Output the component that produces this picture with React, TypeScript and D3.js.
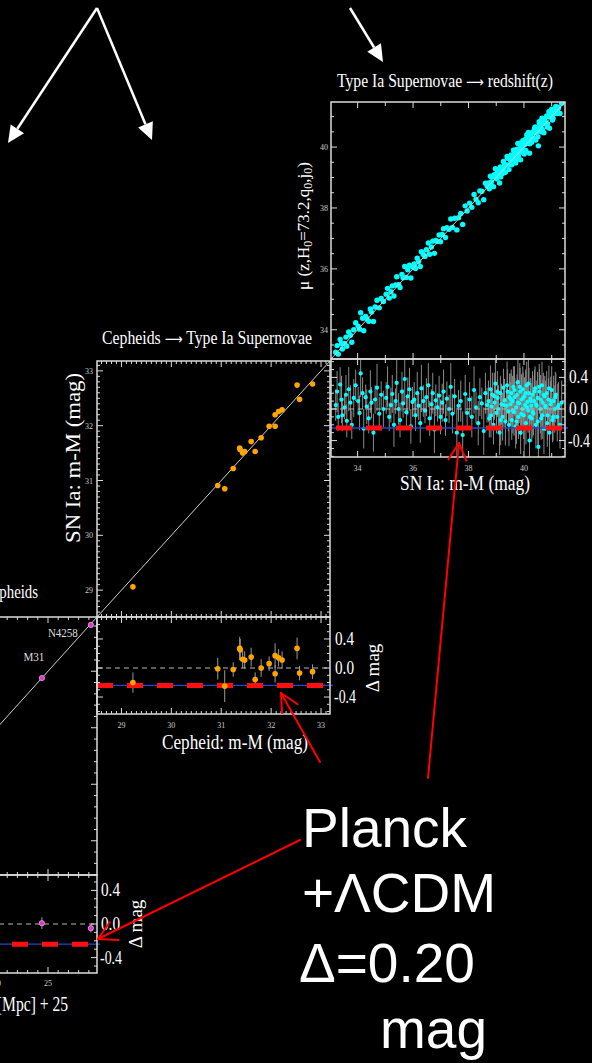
import React from 'react';
import * as d3 from 'd3';

const FG = '#dcdcdc';
const SERIF = '"Liberation Serif", "Times New Roman", serif';
const SANS = '"Liberation Sans", Arial, sans-serif';
const ARROWFONT = '"DejaVu Sans", sans-serif';
const ARROW = '\u27F6';

// ---------- Type Ia supernovae in the Hubble flow (m-M, residual, error) ----------
const snX = [
  33.21, 33.26, 33.3, 33.37, 33.42, 33.45, 33.53, 33.58, 33.61, 33.68, 33.74, 33.79, 33.86, 33.93,
  34.02, 34.07, 34.11, 34.18, 34.22, 34.29, 34.33, 34.4, 34.46, 34.5, 34.57, 34.63, 34.7, 34.78, 34.85, 34.93,
  35.03, 35.08, 35.14, 35.2, 35.25, 35.31, 35.37, 35.41, 35.48, 35.53, 35.6, 35.64, 35.7, 35.76, 35.81, 35.87, 35.92, 35.98,
  36.04, 36.09, 36.15, 36.2, 36.26, 36.3, 36.37, 36.43, 36.48, 36.55, 36.6, 36.66, 36.71, 36.77, 36.82, 36.88, 36.94, 36.99,
  37.05, 37.1, 37.17, 37.22, 37.3, 37.36, 37.42, 37.5, 37.58, 37.64, 37.72, 37.79, 37.88, 37.95,
  38.04, 38.12, 38.2, 38.27, 38.35, 38.41, 38.48, 38.55, 38.61, 38.67,
  38.72, 38.75, 38.79, 38.83, 38.86, 38.9, 38.94, 38.97, 39.01, 39.05, 39.08, 39.12, 39.15, 39.19, 39.23, 39.26, 39.3, 39.33, 39.37, 39.41, 39.44, 39.48,
  39.51, 39.54, 39.56, 39.59, 39.62, 39.64, 39.67, 39.7, 39.72, 39.75, 39.78, 39.8, 39.83, 39.86, 39.88, 39.91, 39.94, 39.96, 39.99, 40.02, 40.04, 40.07, 40.1, 40.12, 40.15, 40.18, 40.2, 40.23, 40.26, 40.28,
  40.31, 40.34, 40.37, 40.4, 40.43, 40.46, 40.49, 40.52, 40.56, 40.59, 40.62, 40.65, 40.68, 40.72, 40.75, 40.78, 40.82, 40.85, 40.88, 40.92, 40.96, 41.0, 41.03, 41.07, 41.11, 41.15, 41.2, 41.25, 41.3, 41.36,
  38.81, 38.93, 39.04, 39.16, 39.28, 39.39, 39.46, 39.53, 39.6, 39.66, 39.73, 39.77, 39.85, 39.9, 39.97, 40.01, 40.06, 40.11, 40.16, 40.21, 40.25, 40.32, 40.38, 40.44, 40.5, 40.55, 40.6, 40.66, 40.7, 40.77, 40.84, 40.9, 40.97, 41.05, 41.13, 41.22,
];
const snRes = [
  0.05, 0.22, -0.1, 0.31, 0.12, -0.08, 0.02, 0.18, -0.15, 0.25, 0.08, -0.2, 0.14, 0.3,
  0.1, -0.05, 0.45, 0.2, -0.25, 0.15, 0.03, -0.12, 0.22, 0.08, -0.3, 0.12, 0.27, -0.06, 0.18, 0.0,
  0.14, 0.28, -0.1, 0.05, 0.19, -0.2, 0.1, 0.33, 0.0, -0.14, 0.22, 0.07, 0.38, -0.04, 0.16, 0.25, -0.22, 0.09,
  0.12, -0.08, 0.2, 0.04, -0.18, 0.26, 0.1, -0.02, 0.15, 0.3, -0.12, 0.06, 0.2, -0.26, 0.11, 0.02, 0.17, -0.1,
  0.08, 0.22, -0.14, 0.13, 0.0, 0.28, -0.06, 0.16, -0.3, 0.04, 0.1, -0.33, 0.19, -0.05,
  0.12, -0.1, 0.24, 0.02, -0.18, 0.15, 0.07, -0.28, 0.2, 0.05,
  0.1, -0.12, 0.25, 0.03, 0.18, -0.2, 0.08, 0.32, -0.05, 0.14, 0.0, -0.3, 0.2, 0.06, -0.1, 0.27, 0.11, -0.16, 0.04, 0.22, -0.03, 0.15,
  0.06, 0.2, -0.14, 0.1, 0.28, -0.04, 0.15, -0.22, 0.02, 0.18, 0.34, -0.1, 0.07, 0.22, -0.3, 0.12, 0.0, 0.25, -0.08, 0.16, 0.05, -0.18, 0.3, 0.09, -0.02, 0.2, -0.4, 0.13, 0.04, -0.12,
  0.18, -0.06, 0.1, 0.26, -0.2, 0.04, 0.14, -0.48, 0.22, 0.0, -0.12, 0.3, 0.08, -0.25, 0.16, 0.02, 0.2, -0.08, 0.12, -0.3, 0.06, 0.24, -0.14, 0.1, 0.0, 0.18, -0.1, 0.05, -0.2, 0.08,
  -0.08, 0.16, 0.22, -0.14, 0.05, 0.3, -0.2, 0.12, -0.02, 0.24, -0.16, 0.08, 0.28, -0.06, 0.14, -0.24, 0.2, 0.02, 0.32, -0.1, 0.1, -0.04, 0.22, 0.06, -0.16, 0.28, 0.12, -0.08, 0.18, 0.04, -0.18, 0.26, 0.1, -0.1, 0.15, 0.02,
];
const snErr = [
  0.2, 0.26, 0.18, 0.22, 0.3, 0.2, 0.15, 0.25, 0.21, 0.28, 0.22, 0.18, 0.24, 0.2,
  0.18, 0.22, 0.3, 0.2, 0.25, 0.16, 0.22, 0.19, 0.27, 0.2, 0.24, 0.18, 0.3, 0.21, 0.17, 0.23,
  0.2, 0.26, 0.18, 0.22, 0.24, 0.28, 0.16, 0.3, 0.2, 0.22, 0.25, 0.18, 0.32, 0.2, 0.24, 0.27, 0.22, 0.19,
  0.22, 0.2, 0.27, 0.18, 0.25, 0.3, 0.2, 0.16, 0.24, 0.28, 0.22, 0.19, 0.26, 0.3, 0.2, 0.18, 0.25, 0.22,
  0.24, 0.28, 0.2, 0.22, 0.18, 0.3, 0.25, 0.22, 0.32, 0.2, 0.26, 0.3, 0.24, 0.2,
  0.22, 0.26, 0.3, 0.2, 0.28, 0.24, 0.2, 0.3, 0.26, 0.22,
  0.26, 0.24, 0.3, 0.22, 0.28, 0.25, 0.2, 0.32, 0.26, 0.24, 0.3, 0.28, 0.22, 0.26, 0.3, 0.24, 0.27, 0.3, 0.22, 0.28, 0.25, 0.3,
  0.28, 0.3, 0.25, 0.32, 0.26, 0.3, 0.24, 0.28, 0.33, 0.26, 0.3, 0.28, 0.25, 0.3, 0.27, 0.32, 0.26, 0.29, 0.3, 0.24, 0.31, 0.27, 0.3, 0.25, 0.28, 0.32, 0.3, 0.26, 0.29, 0.3,
  0.3, 0.27, 0.32, 0.28, 0.3, 0.26, 0.33, 0.3, 0.28, 0.31, 0.27, 0.3, 0.29, 0.32, 0.26, 0.3, 0.28, 0.31, 0.27, 0.33, 0.29, 0.3, 0.28, 0.32, 0.3, 0.27, 0.31, 0.29, 0.3, 0.28,
  0.28, 0.3, 0.26, 0.32, 0.28, 0.3, 0.27, 0.33, 0.29, 0.3, 0.28, 0.31, 0.3, 0.27, 0.32, 0.29, 0.3, 0.28, 0.31, 0.3, 0.29, 0.32, 0.28, 0.3, 0.33, 0.29, 0.31, 0.3, 0.28, 0.32, 0.3, 0.29, 0.31, 0.3, 0.32, 0.3,
];

// ---------- Cepheid hosts: Cepheid m-M vs SN Ia m-M ----------
const cephX = [29.23, 30.93, 31.07, 31.24, 31.37, 31.38, 31.43, 31.47, 31.6, 31.68, 31.8, 31.96, 32.08, 32.08, 32.15, 32.22, 32.52, 32.57, 32.83];
const cephY = [29.06, 30.91, 30.85, 31.22, 31.59, 31.56, 31.5, 31.53, 31.71, 31.53, 31.78, 31.99, 31.99, 32.2, 32.26, 32.29, 32.74, 32.48, 32.76];
const cephRes = [-0.2, -0.01, -0.25, -0.02, 0.27, 0.25, 0.12, 0.11, 0.15, -0.16, 0.0, 0.06, -0.08, 0.17, 0.14, 0.11, 0.27, -0.07, -0.05];
const cephErr = [0.14, 0.15, 0.22, 0.1, 0.16, 0.15, 0.12, 0.12, 0.13, 0.1, 0.12, 0.1, 0.12, 0.17, 0.12, 0.12, 0.15, 0.1, 0.1];

// ---------- Geometric anchors ----------
const anchorNames = ['M31', 'N4258'];
const anchorX = [24.4, 29.2];
const anchorY = [24.4, 29.1];
const anchorRes = [0.01, -0.05];
const anchorErr = [0.07, 0.05];

const planckOffset = -0.24;

const ticksC = [34, 36, 38, 40];
const ticksB = [29, 30, 31, 32, 33];
const ticksA = [20, 25];
const resTicks = [0.4, 0.0, -0.4];

// ---------- scales ----------
const xC = d3.scaleLinear().domain([33.04, 41.48]).range([331, 565]);
const yC = d3.scaleLinear().domain([33.04, 41.48]).range([359, 102]);
const yCr = d3.scaleLinear().domain([-0.608, 0.633]).range([457, 359]);

const xB = d3.scaleLinear().domain([28.51, 33.18]).range([97, 330]);
const yB = d3.scaleLinear().domain([28.51, 33.18]).range([617, 361]);
const yBr = d3.scaleLinear().domain([-0.634, 0.703]).range([714, 617]);

const xA = d3.scaleLinear().domain([6.97, 29.8]).range([-136, 97]);
const yA = d3.scaleLinear().domain([6.97, 29.8]).range([875, 617]);
const yAr = d3.scaleLinear().domain([-0.583, 0.583]).range([973, 875]);

type Lin = d3.ScaleLinear<number, number>;

function tickVals(lo: number, hi: number, step: number) {
  const out: number[] = [];
  const s = Math.ceil(lo / step - 1e-9);
  const e = Math.floor(hi / step + 1e-9);
  for (let i = s; i <= e; i++) out.push(+(i * step).toFixed(6));
  return out;
}
const isMul = (v: number, m: number) => Math.abs(v / m - Math.round(v / m)) < 1e-6;

function TicksX({ scale, y, step, major, dir, minLen = 3, majLen = 6 }: { scale: Lin; y: number; step: number; major: number; dir: number; minLen?: number; majLen?: number }) {
  const [a, b] = scale.domain();
  return (
    <g>
      {tickVals(Math.min(a, b), Math.max(a, b), step).map((v, i) => {
        const L = isMul(v, major) ? majLen : minLen;
        const x = scale(v);
        return <line key={i} x1={x} x2={x} y1={y} y2={y + dir * L} stroke={FG} strokeWidth={1} />;
      })}
    </g>
  );
}
function TicksY({ scale, x, step, major, dir, minLen = 3, majLen = 6 }: { scale: Lin; x: number; step: number; major: number; dir: number; minLen?: number; majLen?: number }) {
  const [a, b] = scale.domain();
  return (
    <g>
      {tickVals(Math.min(a, b), Math.max(a, b), step).map((v, i) => {
        const L = isMul(v, major) ? majLen : minLen;
        const y = scale(v);
        return <line key={i} x1={x} x2={x + dir * L} y1={y} y2={y} stroke={FG} strokeWidth={1} />;
      })}
    </g>
  );
}

function Frame({ xs, ys }: { xs: Lin; ys: Lin }) {
  const [x0, x1] = xs.range();
  const [y0, y1] = ys.range();
  return <rect x={x0} y={Math.min(y0, y1)} width={x1 - x0} height={Math.abs(y1 - y0)} fill="none" stroke={FG} strokeWidth={1.5} />;
}

function RefLines({ xs, ys, dashOffset }: { xs: Lin; ys: Lin; dashOffset: number }) {
  const [x0, x1] = xs.range();
  const y0 = ys(0);
  const yr = ys(planckOffset);
  return (
    <g>
      <line x1={x0} x2={x1} y1={y0} y2={y0} stroke="#b8b8b8" strokeWidth={1} strokeDasharray="5,4" />
      <line x1={x0} x2={x1 + 3} y1={yr} y2={yr} stroke="#2646c8" strokeWidth={1.4} />
      <line x1={x0} x2={x1} y1={yr} y2={yr} stroke="#ff1010" strokeWidth={5} strokeDasharray="16,14" strokeDashoffset={dashOffset} />
    </g>
  );
}

function Arrow({ x1, y1, x2, y2, color, width, head, half, open }: { x1: number; y1: number; x2: number; y2: number; color: string; width: number; head: number; half: number; open?: boolean }) {
  const dx = x2 - x1, dy = y2 - y1;
  const len = Math.hypot(dx, dy);
  const ux = dx / len, uy = dy / len;
  const bx = x2 - ux * head, by = y2 - uy * head;
  const nx = -uy, ny = ux;
  const p1 = [bx + nx * half, by + ny * half];
  const p2 = [bx - nx * half, by - ny * half];
  if (open) {
    return (
      <g stroke={color} strokeWidth={width} strokeLinecap="round">
        <line x1={x1} y1={y1} x2={x2} y2={y2} />
        <line x1={x2} y1={y2} x2={p1[0]} y2={p1[1]} />
        <line x1={x2} y1={y2} x2={p2[0]} y2={p2[1]} />
      </g>
    );
  }
  return (
    <g>
      <line x1={x1} y1={y1} x2={bx} y2={by} stroke={color} strokeWidth={width} />
      <polygon points={`${x2},${y2} ${p1[0]},${p1[1]} ${p2[0]},${p2[1]}`} fill={color} />
    </g>
  );
}

function ResLabels({ ys, x }: { ys: Lin; x: number }) {
  return (
    <g>
      {resTicks.map((v, i) => (
        <text key={i} x={v < 0 ? x - 1 : x} y={ys(v) + 6} fill="#fff" fontFamily={SERIF} fontSize={18}
          textLength={v < 0 ? 22 : 19} lengthAdjust="spacingAndGlyphs">
          {v < 0 ? '-' + Math.abs(v).toFixed(1) : v.toFixed(1)}
        </text>
      ))}
    </g>
  );
}

export default function App() {
  const diag = (xs: Lin, ys: Lin) => {
    const [lo, hi] = xs.domain();
    return <line x1={xs(lo)} y1={ys(lo)} x2={xs(hi)} y2={ys(hi)} stroke="#cfcfcf" strokeWidth={1} />;
  };
  return (
    <svg width={592} height={1063} style={{ position: 'absolute', left: 0, top: 0, display: 'block', background: '#000' }}>
      <rect x={0} y={0} width={592} height={1063} fill="#000" />
      <defs>
        <clipPath id="clipCr"><rect x={331} y={359} width={234} height={98} /></clipPath>
        <clipPath id="clipBr"><rect x={97} y={617} width={233} height={97} /></clipPath>
        <clipPath id="clipC"><rect x={331} y={102} width={234} height={257} /></clipPath>
      </defs>

      {/* white arrows */}
      <Arrow x1={97} y1={8} x2={8} y2={143} color="#fff" width={2.5} head={17} half={8} />
      <Arrow x1={97} y1={8} x2={152} y2={140} color="#fff" width={2.5} head={17} half={8} />
      <Arrow x1={350} y1={8} x2={383} y2={62} color="#fff" width={2.5} head={17} half={8} />

      {/* ===== Panel C : SN Ia -> redshift ===== */}
      <text x={337} y={87} fill="#fff" fontFamily={SERIF} fontSize={19} textLength={216} lengthAdjust="spacingAndGlyphs">
        Type Ia Supernovae <tspan fontFamily={ARROWFONT} fontSize={15}>{ARROW}</tspan> redshift(z)
      </text>
      <g clipPath="url(#clipC)">
        {snX.map((x, i) => (
          <circle key={i} cx={xC(x)} cy={yC(x + snRes[i])} r={2.7} fill="#00ffff" />
        ))}
        {diag(xC, yC)}
      </g>
      <Frame xs={xC} ys={yC} />
      <TicksY scale={yC} x={331} step={0.5} major={2} dir={1} minLen={3} majLen={6} />
      <TicksY scale={yC} x={565} step={0.5} major={2} dir={-1} minLen={3} majLen={6} />
      <TicksX scale={xC} y={102} step={1} major={2} dir={1} minLen={4} majLen={6} />
      <TicksX scale={xC} y={359} step={1} major={2} dir={-1} minLen={4} majLen={6} />
      {ticksC.map((v) => (
        <text key={v} x={328} y={yC(v) + 3} textAnchor="end" fill="#ccc" fontFamily={SERIF} fontSize={8}>{v}</text>
      ))}
      <text transform="translate(309,226) rotate(-90)" textAnchor="middle" fill="#fff" fontFamily={SERIF} fontSize={17}>
        μ (z,H<tspan dy={3} fontSize={12}>0</tspan><tspan dy={-3}>=73.2,q</tspan><tspan dy={3} fontSize={12}>0</tspan><tspan dy={-3}>,j</tspan><tspan dy={3} fontSize={12}>0</tspan><tspan dy={-3}>)</tspan>
      </text>

      {/* residual C */}
      <g clipPath="url(#clipCr)">
        {snX.map((x, i) => (
          <line key={i} x1={xC(x)} x2={xC(x)} y1={yCr(snRes[i] - snErr[i])} y2={yCr(snRes[i] + snErr[i])} stroke="#8a8a8a" strokeWidth={1} />
        ))}
        {snX.map((x, i) => (
          <circle key={i} cx={xC(x)} cy={yCr(snRes[i])} r={2.1} fill="#00ffff" />
        ))}
      </g>
      <RefLines xs={xC} ys={yCr} dashOffset={25} />
      <Frame xs={xC} ys={yCr} />
      <TicksY scale={yCr} x={331} step={0.1} major={0.4} dir={1} minLen={3} majLen={6} />
      <TicksY scale={yCr} x={565} step={0.1} major={0.4} dir={-1} minLen={3} majLen={6} />
      <TicksX scale={xC} y={359} step={1} major={2} dir={1} minLen={4} majLen={6} />
      <TicksX scale={xC} y={457} step={1} major={2} dir={-1} minLen={4} majLen={6} />
      {ticksC.map((v) => (
        <text key={v} x={xC(v)} y={471} textAnchor="middle" fill="#ccc" fontFamily={SERIF} fontSize={8}>{v}</text>
      ))}
      <ResLabels ys={yCr} x={569} />
      <text x={400} y={490} fill="#fff" fontFamily={SERIF} fontSize={20} textLength={130} lengthAdjust="spacingAndGlyphs">SN Ia: m-M (mag)</text>

      {/* ===== Panel B : Cepheids -> SN Ia ===== */}
      <text x={102} y={344} fill="#fff" fontFamily={SERIF} fontSize={19} textLength={210} lengthAdjust="spacingAndGlyphs">
        Cepheids <tspan fontFamily={ARROWFONT} fontSize={15}>{ARROW}</tspan> Type Ia Supernovae
      </text>
      {diag(xB, yB)}
      {cephX.map((x, i) => (
        <circle key={i} cx={xB(x)} cy={yB(cephY[i])} r={2.8} fill="#ffa500" />
      ))}
      <Frame xs={xB} ys={yB} />
      <TicksY scale={yB} x={97} step={0.1} major={1} dir={1} minLen={3} majLen={6} />
      <TicksY scale={yB} x={330} step={0.1} major={1} dir={-1} minLen={3} majLen={6} />
      <TicksX scale={xB} y={361} step={0.1} major={1} dir={1} minLen={3} majLen={6} />
      <TicksX scale={xB} y={617} step={0.1} major={1} dir={-1} minLen={3} majLen={6} />
      {ticksB.map((v) => (
        <text key={v} x={93} y={yB(v) + 3} textAnchor="end" fill="#ccc" fontFamily={SERIF} fontSize={8}>{v}</text>
      ))}
      <text transform="translate(80,458) rotate(-90)" textAnchor="middle" fill="#fff" fontFamily={SERIF} fontSize={21} textLength={170} lengthAdjust="spacingAndGlyphs">SN Ia: m-M (mag)</text>

      {/* residual B */}
      <g clipPath="url(#clipBr)">
        {cephX.map((x, i) => (
          <line key={i} x1={xB(x)} x2={xB(x)} y1={yBr(cephRes[i] - cephErr[i])} y2={yBr(cephRes[i] + cephErr[i])} stroke="#9a9a9a" strokeWidth={1} />
        ))}
      </g>
      <RefLines xs={xB} ys={yBr} dashOffset={0} />
      {cephX.map((x, i) => (
        <circle key={i} cx={xB(x)} cy={yBr(cephRes[i])} r={2.8} fill="#ffa500" />
      ))}
      <Frame xs={xB} ys={yBr} />
      <TicksY scale={yBr} x={97} step={0.1} major={0.4} dir={1} minLen={3} majLen={6} />
      <TicksY scale={yBr} x={330} step={0.1} major={0.4} dir={-1} minLen={3} majLen={6} />
      <TicksX scale={xB} y={617} step={0.1} major={1} dir={1} minLen={3} majLen={6} />
      <TicksX scale={xB} y={714} step={0.1} major={1} dir={-1} minLen={3} majLen={6} />
      {ticksB.map((v) => (
        <text key={v} x={xB(v)} y={728} textAnchor="middle" fill="#ccc" fontFamily={SERIF} fontSize={8}>{v}</text>
      ))}
      <ResLabels ys={yBr} x={335} />
      <text transform="translate(379,668) rotate(-90)" textAnchor="middle" fill="#fff" fontFamily={SERIF} fontSize={19}>Δ mag</text>
      <text x={162} y={749} fill="#fff" fontFamily={SERIF} fontSize={20} textLength={146} lengthAdjust="spacingAndGlyphs">Cepheid: m-M (mag)</text>

      {/* ===== Panel A : geometry -> Cepheids ===== */}
      <text transform="translate(38,598) scale(0.78,1)" textAnchor="end" fill="#fff" fontFamily={SERIF} fontSize={19}>
        Geometry <tspan fontFamily={ARROWFONT} fontSize={15}>{ARROW}</tspan> Cepheids
      </text>
      {diag(xA, yA)}
      {anchorX.map((x, i) => (
        <circle key={i} cx={xA(x)} cy={yA(anchorY[i])} r={2.6} fill="#d23cc8" stroke="#ff9cf4" strokeWidth={0.8} />
      ))}
      <text x={xA(anchorX[1]) - 28} y={yA(anchorY[1]) + 12} textAnchor="middle" fill="#ddd" fontFamily={SERIF} fontSize={13} textLength={30} lengthAdjust="spacingAndGlyphs">{anchorNames[1]}</text>
      <text x={xA(anchorX[0]) - 8} y={yA(anchorY[0]) - 17} textAnchor="middle" fill="#ddd" fontFamily={SERIF} fontSize={13} textLength={21} lengthAdjust="spacingAndGlyphs">{anchorNames[0]}</text>
      <Frame xs={xA} ys={yA} />
      <TicksX scale={xA} y={617} step={1} major={5} dir={1} minLen={3} majLen={6} />
      <TicksX scale={xA} y={875} step={1} major={5} dir={-1} minLen={3} majLen={6} />
      <TicksY scale={yA} x={97} step={1} major={5} dir={-1} minLen={3} majLen={6} />

      {/* residual A */}
      {anchorX.map((x, i) => (
        <line key={i} x1={xA(x)} x2={xA(x)} y1={yAr(anchorRes[i] - anchorErr[i])} y2={yAr(anchorRes[i] + anchorErr[i])} stroke="#9a9a9a" strokeWidth={1} />
      ))}
      <RefLines xs={xA} ys={yAr} dashOffset={2} />
      {anchorX.map((x, i) => (
        <circle key={i} cx={xA(x)} cy={yAr(anchorRes[i])} r={2.6} fill="#d23cc8" stroke="#ff9cf4" strokeWidth={0.8} />
      ))}
      <Frame xs={xA} ys={yAr} />
      <TicksX scale={xA} y={875} step={1} major={5} dir={1} minLen={3} majLen={6} />
      <TicksX scale={xA} y={973} step={1} major={5} dir={-1} minLen={3} majLen={6} />
      <TicksY scale={yAr} x={97} step={0.1} major={0.4} dir={-1} minLen={3} majLen={6} />
      {ticksA.map((v) => (
        <text key={v} x={xA(v)} y={986} textAnchor="middle" fill="#ccc" fontFamily={SERIF} fontSize={8}>{v}</text>
      ))}
      <ResLabels ys={yAr} x={101} />
      <text transform="translate(142,924) rotate(-90)" textAnchor="middle" fill="#fff" fontFamily={SERIF} fontSize={19}>Δ mag</text>
      <text transform="translate(68,1011) scale(0.78,1)" textAnchor="end" fill="#fff" fontFamily={SERIF} fontSize={20}>5 log D [Mpc] + 25</text>

      {/* red arrows */}
      <Arrow x1={428} y1={778} x2={459} y2={443} color="#ff0000" width={2} head={17} half={9} open />
      <Arrow x1={320} y1={762} x2={281} y2={693} color="#ff0000" width={2} head={18} half={9} open />
      <Arrow x1={300} y1={840} x2={98} y2={939} color="#ff0000" width={2} head={18} half={10} open />

      {/* annotation */}
      <g fill="#fff" fontFamily={SANS} fontSize={55}>
        <text x={302} y={847}>Planck</text>
        <text x={302} y={912}>+ΛCDM</text>
        <text x={299} y={982}>Δ=0.20</text>
        <text x={380} y={1048}>mag</text>
      </g>
    </svg>
  );
}
